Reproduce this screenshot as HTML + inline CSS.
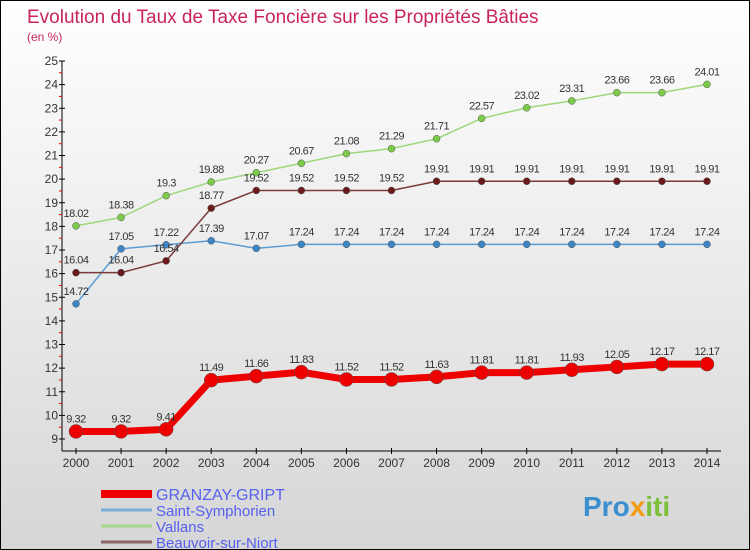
<!DOCTYPE html>
<html><head><meta charset="utf-8"><style>
body{margin:0}
#c{width:748px;height:548px;border:1px solid #000;background:linear-gradient(#fff,#d6d6d6);position:relative;font-family:"Liberation Sans",sans-serif;overflow:hidden}
svg text{font-family:"Liberation Sans",sans-serif}
</style></head><body>
<div id="c">
<svg id="s" width="748" height="548">
<text x="26" y="22" font-size="19" fill="#c8245a">Evolution du Taux de Taxe Foncière sur les Propriétés Bâties</text>
<text x="26" y="40" font-size="12" fill="#c8245a">(en %)</text>
<text x="582" y="515" font-size="28" font-weight="bold" fill="#3a8fd0">Pro<tspan fill="#f39c12">x</tspan><tspan fill="#7cbf3a">iti</tspan></text>
</svg>
</div>
<script>
const years=[2000,2001,2002,2003,2004,2005,2006,2007,2008,2009,2010,2011,2012,2013,2014];
const granzay=[9.32,9.32,9.41,11.49,11.66,11.83,11.52,11.52,11.63,11.81,11.81,11.93,12.05,12.17,12.17];
const saintSym=[14.72,17.05,17.22,17.39,17.07,17.24,17.24,17.24,17.24,17.24,17.24,17.24,17.24,17.24,17.24];
const vallans=[18.02,18.38,19.3,19.88,20.27,20.67,21.08,21.29,21.71,22.57,23.02,23.31,23.66,23.66,24.01];
const beauvoir=[16.04,16.04,16.54,18.77,19.52,19.52,19.52,19.52,19.91,19.91,19.91,19.91,19.91,19.91,19.91];
const yTicks=[9,10,11,12,13,14,15,16,17,18,19,20,21,22,23,24,25];
const NS="http://www.w3.org/2000/svg",s=document.getElementById('s');
const X=i=>75+i*(706-75)/(years.length-1);
const Y=v=>438-(v-9)*(438-60)/16;
function mk(t,a,p){const e=document.createElementNS(NS,t);for(const k in a)e.setAttribute(k,a[k]);(p||s).appendChild(e);return e;}
// axes
const ax=mk('g',{});


mk('line',{x1:61,y1:60,x2:61,y2:450,stroke:'#000'},ax);
mk('line',{x1:61,y1:450,x2:720,y2:450,stroke:'#000'},ax);
yTicks.forEach(v=>{
 mk('line',{x1:58,y1:Y(v),x2:64,y2:Y(v),stroke:'#000'},ax);
 if(v<25)mk('line',{x1:58,y1:Y(v+0.5),x2:61,y2:Y(v+0.5),stroke:'#e00'},ax);
 const t=mk('text',{x:57,y:Y(v)+4,'font-size':12,'text-anchor':'end',fill:'#333'},ax);t.textContent=v;
 
 
});
years.forEach((y,i)=>{
 mk('line',{x1:X(i),y1:447,x2:X(i),y2:453,stroke:'#000'},ax);
 const t=mk('text',{x:X(i),y:466,'font-size':12,'text-anchor':'middle',fill:'#333'},ax);t.textContent=y;
 
 
});
function series(name,data,col,lw,r,dot){
 const g=mk('g',{});
 
 
 mk('polyline',{points:data.map((v,i)=>X(i)+','+Y(v)).join(' '),fill:'none',stroke:col,'stroke-width':lw},g);
 data.forEach((v,i)=>{
  const c=mk('circle',{cx:X(i),cy:Y(v),r:r,fill:dot,stroke:'#555','stroke-width':0.5},g);
  
  
  const t=mk('text',{x:X(i),y:Y(v)-9,'font-size':11,'text-anchor':'middle',fill:'#333','letter-spacing':'-0.5'},g);t.textContent=v;
  
  
 });
}
series('saint-symphorien-series',saintSym,'#5b9bd5',1.5,3.5,'#3d86c6');
series('vallans-series',vallans,'#9ed77a',1.5,3.5,'#7ccb4a');
series('beauvoir-series',beauvoir,'#7a3a3a',1.5,3.5,'#6a1a1a');
series('granzay-series',granzay,'#e00',7,7,'#e00');
const leg=[['GRANZAY-GRIPT','#e00',8],['Saint-Symphorien','#7aaed6',3],['Vallans','#a5d88a',3],['Beauvoir-sur-Niort','#8c6464',3]];
leg.forEach((l,i)=>{
 const y=493+i*16;
 const g=mk('g',{});
 
 
 mk('line',{x1:100,y1:y,x2:151,y2:y,stroke:l[1],'stroke-width':l[2]},g);
 const t=mk('text',{x:155,y:y+6,'font-size':i==0?16:15,fill:'#5560f0'},g);t.textContent=l[0];
});
</script>
</body></html>
